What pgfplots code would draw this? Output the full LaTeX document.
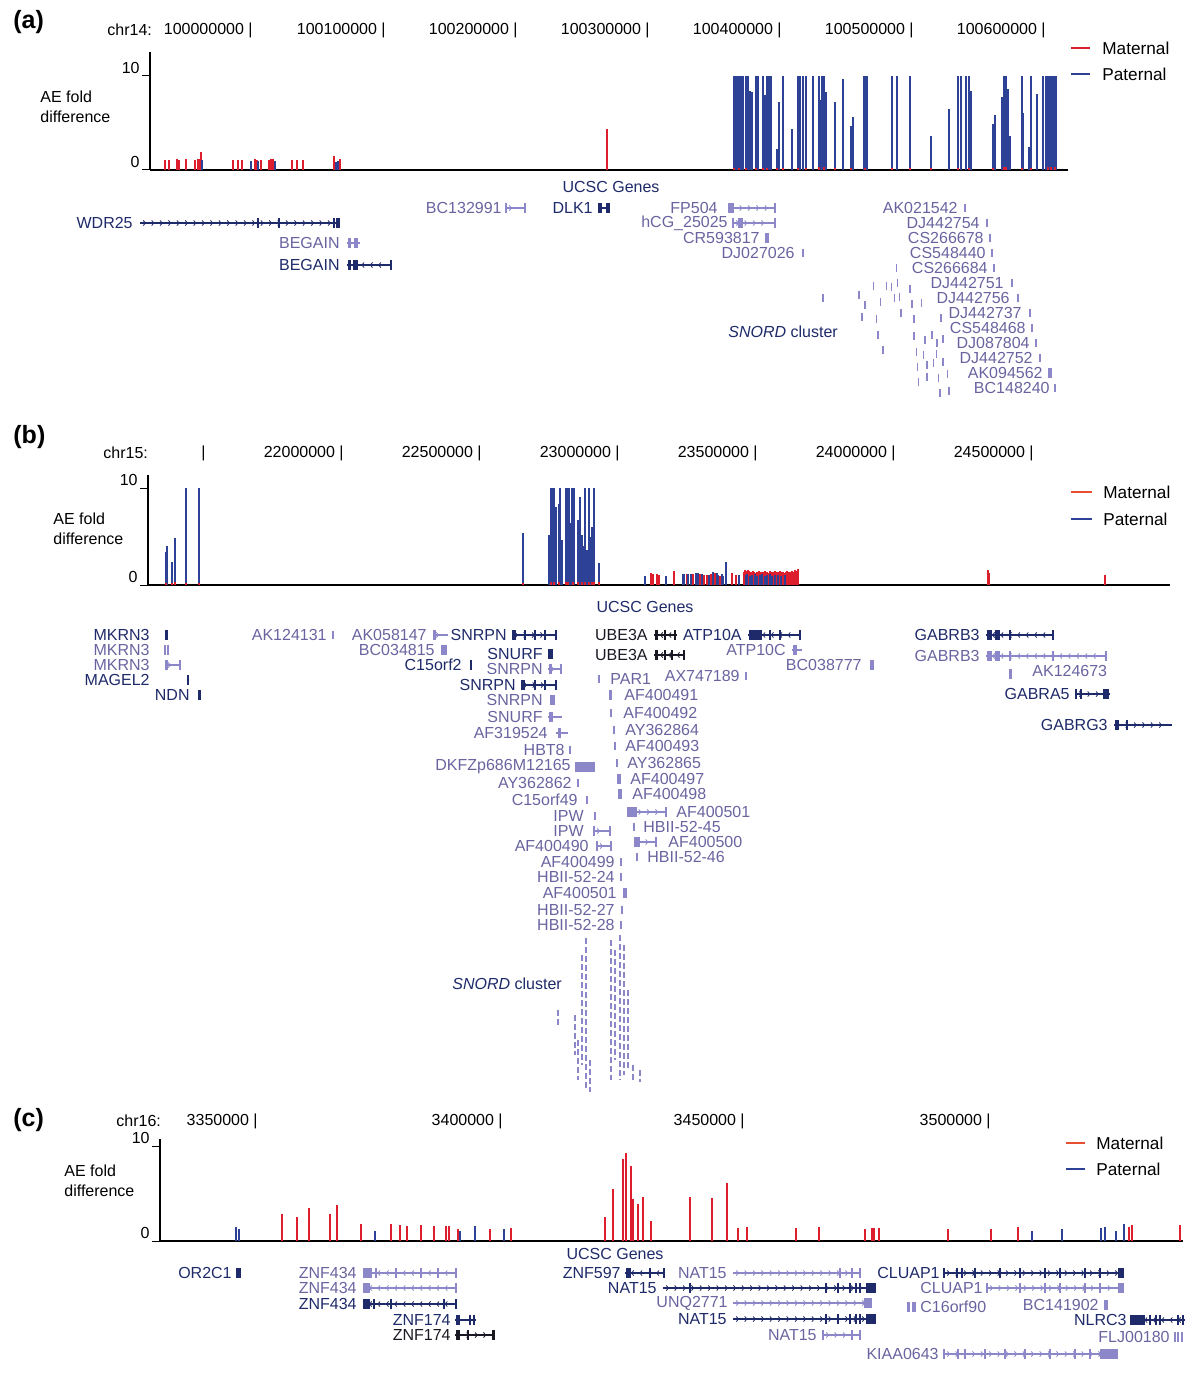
\documentclass[border=0pt]{standalone}
\usepackage{fontspec}
\setmainfont{Liberation Sans}
\usepackage{pgfplots}
\pgfplotsset{compat=1.18}
\usetikzlibrary{decorations.markings,arrows.meta}
\definecolor{matred}{RGB}{220,30,45}
\definecolor{matred2}{RGB}{232,78,48}
\definecolor{patblue}{RGB}{45,65,150}
\definecolor{gdark}{RGB}{30,42,105}
\definecolor{glab}{RGB}{105,100,160}
\definecolor{glt}{RGB}{140,135,200}
\definecolor{gblk}{RGB}{25,25,35}
\newcommand\gf{\fontsize{8}{9.6}\selectfont}
\newcommand\lf{\fontsize{8.6}{10}\selectfont}
\tikzset{
 fwd/.style={postaction={decorate,decoration={markings,mark=between positions 3pt and -3pt step 4.2pt with {\arrow[line width=0.4pt]{Straight Barb[length=1.1pt,width=2.6pt]}}}}},
 rev/.style={postaction={decorate,decoration={markings,mark=between positions 3pt and -3pt step 4.2pt with {\arrowreversed[line width=0.4pt]{Straight Barb[length=1.1pt,width=2.6pt]}}}}},
}
% gene helpers (overlay axis, pixel coordinates)
\newcommand\G[5]{\addplot[#1,line width=0.55pt,#2] coordinates {(#3,#5) (#4,#5)};}
\newcommand\E[4]{\addplot[#1,line width=4.6pt] coordinates {(#2,#4) (#3,#4)};}
\newcommand\K[2]{\addplot[#1,only marks,mark=|,mark size=2.4pt,mark options={line width=0.8pt}] coordinates {#2};}
\newcommand\Ks[2]{\addplot[#1,only marks,mark=|,mark size=2pt,mark options={line width=0.6pt}] coordinates {#2};}
\newcommand\LE[4]{\node[anchor=east,inner sep=0,text=#1,font=\gf] at (axis cs:#2,#3) {#4};}
\newcommand\LW[4]{\node[anchor=west,inner sep=0,text=#1,font=\gf] at (axis cs:#2,#3) {#4};}
\pgfplotsset{
 track/.style={scale only axis, anchor=south west, axis lines=left, axis line style={-,line width=0.7pt},
   xtick=\empty, ytick={0,10}, tick align=outside, major tick length=4pt,
   ytick style={line width=0.5pt,black},
   /pgf/number format/assume math mode=true,
   yticklabel style={font=\gf,anchor=south east,inner sep=1pt},
   ymin=0, clip=false},
 bar/.style={ycomb, no markers, line width=1pt},
}
\begin{document}
\begin{tikzpicture}[x=0.5pt,y=-0.5pt]
\path[use as bounding box] (0,0) rectangle (1200,1375);
% ---------------- overlay: labels and gene tracks ----------------
\begin{axis}[at={(0pt,0pt)}, anchor=north west, scale only axis, width=600pt, height=687.5pt,
  xmin=0, xmax=1200, ymin=0, ymax=1375, y dir=reverse, hide axis, clip=false]
% panel labels
\node[anchor=west,inner sep=0,font=\fontsize{12.5}{14}\bfseries] at (axis cs:13,22) {(a)};
\node[anchor=west,inner sep=0,font=\fontsize{12.5}{14}\bfseries] at (axis cs:13,437) {(b)};
\node[anchor=west,inner sep=0,font=\fontsize{12.5}{14}\bfseries] at (axis cs:13,1120) {(c)};
% y labels
\node[anchor=west,align=left,inner sep=0,font=\fontsize{8}{10}\selectfont] at (axis cs:40,107) {AE fold\\difference};
\node[anchor=west,align=left,inner sep=0,font=\fontsize{8}{10}\selectfont] at (axis cs:53,529) {AE fold\\difference};
\node[anchor=west,align=left,inner sep=0,font=\fontsize{8}{10}\selectfont] at (axis cs:64,1181) {AE fold\\difference};
% chromosome coordinates
\LW{black}{107}{30}{chr14:}
\LE{black}{253}{30}{100000000 |}
\LE{black}{386}{30}{100100000 |}
\LE{black}{518}{30}{100200000 |}
\LE{black}{650}{30}{100300000 |}
\LE{black}{782}{30}{100400000 |}
\LE{black}{914}{30}{100500000 |}
\LE{black}{1046}{30}{100600000 |}
\LW{black}{103}{453}{chr15:}
\LE{black}{206}{453}{|}
\LE{black}{344}{453}{22000000 |}
\LE{black}{482}{453}{22500000 |}
\LE{black}{620}{453}{23000000 |}
\LE{black}{758}{453}{23500000 |}
\LE{black}{896}{453}{24000000 |}
\LE{black}{1034}{453}{24500000 |}
\LW{black}{116}{1121}{chr16:}
\LE{black}{258}{1121}{3350000 |}
\LE{black}{503}{1121}{3400000 |}
\LE{black}{745}{1121}{3450000 |}
\LE{black}{991}{1121}{3500000 |}
% legends
\addplot[matred,line width=0.8pt] coordinates {(1071,48) (1090,48)};
\addplot[patblue,line width=0.8pt] coordinates {(1071,74) (1090,74)};
\node[anchor=west,inner sep=0,font=\lf] at (axis cs:1102,48) {Maternal};
\node[anchor=west,inner sep=0,font=\lf] at (axis cs:1102,74) {Paternal};
\addplot[matred2,line width=0.8pt] coordinates {(1071,492) (1092,492)};
\addplot[patblue,line width=0.8pt] coordinates {(1071,519) (1092,519)};
\node[anchor=west,inner sep=0,font=\lf] at (axis cs:1103,492) {Maternal};
\node[anchor=west,inner sep=0,font=\lf] at (axis cs:1103,519) {Paternal};
\addplot[matred2,line width=0.8pt] coordinates {(1066,1143) (1085,1143)};
\addplot[patblue,line width=0.8pt] coordinates {(1066,1169) (1085,1169)};
\node[anchor=west,inner sep=0,font=\lf] at (axis cs:1096,1143) {Maternal};
\node[anchor=west,inner sep=0,font=\lf] at (axis cs:1096,1169) {Paternal};
% ===== genes (a) =====
\node[inner sep=0,text=gdark,font=\gf] at (axis cs:611,187) {UCSC Genes};
\LE{glab}{502}{208}{BC132991} \G{glt}{fwd}{506}{525}{208} \K{glt}{(506,208)(525,208)}
\LE{gdark}{593}{208}{DLK1} \G{gdark}{}{598}{610}{208} \E{gdark}{598}{602}{208} \E{gdark}{606}{610}{208}
\LE{glab}{718}{208}{FP504} \G{glt}{fwd}{728}{775}{208} \E{glt}{728}{734}{208} \K{glt}{(775,208)}
\LE{glab}{728}{223}{hCG\_25025} \G{glt}{fwd}{733}{775}{223} \E{glt}{738}{743}{223} \K{glt}{(733,223)(775,223)}
\LE{glab}{760}{238}{CR593817} \E{glt}{765}{769}{238}
\LE{glab}{795}{253}{DJ027026} \Ks{glt}{(803,253)}
\LE{gdark}{133}{223}{WDR25} \G{gdark}{fwd}{140}{340}{223} \K{gdark}{(258,223)(279,223)(334,223)} \E{gdark}{336}{340}{223}
\LE{glab}{340}{243}{BEGAIN} \G{glt}{}{347}{360}{243} \E{glt}{348}{351}{243} \E{glt}{354}{358}{243}
\LE{gdark}{340}{265}{BEGAIN} \G{gdark}{rev}{347}{392}{265} \E{gdark}{348}{351}{265} \E{gdark}{353}{358}{265} \K{gdark}{(391,265)}
\LE{glab}{958}{208}{AK021542} \Ks{glt}{(965,208)}
\LE{glab}{980}{223}{DJ442754} \Ks{glt}{(987,223)}
\LE{glab}{984}{238}{CS266678} \Ks{glt}{(990,238)}
\LE{glab}{986}{253}{CS548440} \Ks{glt}{(992,253)}
\LE{glab}{988}{268}{CS266684} \Ks{glt}{(994,268)}
\LE{glab}{1004}{283}{DJ442751} \Ks{glt}{(1012,283)}
\LE{glab}{1010}{298}{DJ442756} \Ks{glt}{(1018,298)}
\LE{glab}{1022}{313}{DJ442737} \Ks{glt}{(1030,313)}
\LE{glab}{1026}{328}{CS548468} \Ks{glt}{(1032,328)}
\LE{glab}{1030}{343}{DJ087804} \Ks{glt}{(1036,343)}
\LE{glab}{1033}{358}{DJ442752} \Ks{glt}{(1040,358)}
\LE{glab}{1043}{373}{AK094562} \E{glt}{1048}{1052}{373}
\LE{glab}{1050}{388}{BC148240} \Ks{glt}{(1055,388)}
\node[anchor=west,inner sep=0,text=gdark,font=\gf] at (axis cs:728,332) {\textit{SNORD} cluster};
\Ks{glt}{(896.6,268)(873.6,286)(886.3,286)(891.6,287)(897.7,283)(910,289)(823,298)(859,295)(865,305)(880.5,302)(894.7,298)(899.7,297)(912,304)(921.5,303)(862,317)(876.7,319)(901,313)(914,319)(941,318)(878,335)(914,336)(925,340)(932,335)(937,343)(943,339)(883,350)(916.5,352)(923.4,355)(936.8,354)(943,362)(917.6,367)(927,365)(933.7,363)(918.4,382)(927,377)(938.7,378)(947.5,374)(940,393)(949,391)}
% ===== genes (b) =====
\node[inner sep=0,text=gdark,font=\gf] at (axis cs:645,607) {UCSC Genes};
\LE{gdark}{150}{635}{MKRN3} \E{gdark}{165}{168}{635}
\LE{glab}{150}{650}{MKRN3} \K{glt}{(165,650)(168,650)}
\LE{glab}{150}{665}{MKRN3} \G{glt}{fwd}{165}{180}{665} \E{glt}{165}{168}{665} \K{glt}{(180,665)}
\LE{gdark}{150}{680}{MAGEL2} \K{gdark}{(188,680)}
\LE{gdark}{190}{695}{NDN} \E{gdark}{198}{201}{695}
\LE{glab}{327}{635}{AK124131} \Ks{glt}{(333,635)}
\LE{glab}{427}{635}{AK058147} \G{glt}{fwd}{433}{448}{635} \E{glt}{433}{436}{635}
\LE{gdark}{507}{635}{SNRPN} \G{gdark}{fwd}{512}{556}{635} \E{gdark}{512}{516}{635} \K{gdark}{(525,635)(535,635)(545,635)(556,635)}
\LE{glab}{435}{650}{BC034815} \E{glt}{441}{447}{650}
\LE{gdark}{543}{654}{SNURF} \E{gdark}{548}{553}{654}
\LE{gdark}{462}{665}{C15orf2} \K{gdark}{(471,665)}
\LE{glab}{543}{669}{SNRPN} \G{glt}{fwd}{548}{562}{669} \E{glt}{549}{552}{669} \K{glt}{(561,669)}
\LE{gdark}{516}{685}{SNRPN} \G{gdark}{fwd}{521}{556}{685} \E{gdark}{521}{525}{685} \K{gdark}{(535,685)(545,685)(556,685)}
\LE{glab}{543}{700}{SNRPN} \E{glt}{550}{555}{700}
\LE{glab}{543}{717}{SNURF} \G{glt}{fwd}{548}{562}{717} \E{glt}{549}{553}{717}
\LE{glab}{548}{733}{AF319524} \G{glt}{fwd}{556}{568}{733} \E{glt}{558}{561}{733}
\LE{glab}{565}{750}{HBT8} \Ks{glt}{(570,750)}
\LE{glab}{571}{767}{DKFZp686M12165} \E{glt}{575}{595}{767}
\LE{glab}{572}{783}{AY362862} \Ks{glt}{(578,783)}
\LE{glab}{578}{800}{C15orf49} \Ks{glt}{(587,800)}
\LE{glab}{584}{816}{IPW} \Ks{glt}{(595,816)}
\LE{glab}{584}{831}{IPW} \G{glt}{fwd}{594}{610}{831} \K{glt}{(594,831)(610,831)}
\LE{glab}{589}{846}{AF400490} \G{glt}{fwd}{597}{611}{846} \K{glt}{(597,846)(611,846)}
\LE{glab}{615}{862}{AF400499} \Ks{glt}{(621,862)}
\LE{glab}{615}{877}{HBII-52-24} \Ks{glt}{(621,877)}
\LE{glab}{617}{893}{AF400501} \E{glt}{623}{627}{893}
\LE{glab}{615}{910}{HBII-52-27} \Ks{glt}{(622,910)}
\LE{glab}{615}{925}{HBII-52-28} \Ks{glt}{(621,925)}
\LE{gblk}{648}{635}{UBE3A} \G{gblk}{rev}{654}{677}{635} \E{gblk}{655}{658}{635} \K{gblk}{(665,635)(675,635)}
\LE{gdark}{742}{635}{ATP10A} \G{gdark}{rev}{748}{800}{635} \E{gdark}{749}{762}{635} \K{gdark}{(770,635)(780,635)(800,635)}
\LE{gblk}{648}{655}{UBE3A} \G{gblk}{rev}{654}{684}{655} \E{gblk}{655}{658}{655} \K{gblk}{(665,655)(672,655)(684,655)}
\LE{glab}{786}{650}{ATP10C} \G{glt}{rev}{792}{802}{650} \E{glt}{793}{797}{650}
\LE{glab}{862}{665}{BC038777} \E{glt}{870}{874}{665}
\Ks{glt}{(599,679)} \LW{glab}{610}{679}{PAR1}
\LE{glab}{740}{676}{AX747189} \Ks{glt}{(746,676)}
\LW{glab}{624}{695}{AF400491} \E{glt}{609}{612}{695}
\LW{glab}{623}{713}{AF400492} \Ks{glt}{(611,713)}
\LW{glab}{625}{730}{AY362864} \Ks{glt}{(614,730)}
\LW{glab}{625}{746}{AF400493} \Ks{glt}{(615,746)}
\LW{glab}{627}{763}{AY362865} \Ks{glt}{(617,763)}
\LW{glab}{630}{779}{AF400497} \E{glt}{617}{621}{779}
\LW{glab}{632}{794}{AF400498} \E{glt}{618}{622}{794}
\LW{glab}{676}{812}{AF400501} \G{glt}{fwd}{627}{666}{812} \E{glt}{627}{637}{812} \K{glt}{(666,812)}
\LW{glab}{643}{827}{HBII-52-45} \Ks{glt}{(634,827)}
\LW{glab}{668}{842}{AF400500} \G{glt}{fwd}{634}{656}{842} \E{glt}{634}{640}{842} \K{glt}{(656,842)}
\LW{glab}{647}{857}{HBII-52-46} \Ks{glt}{(637,857)}
\LE{gdark}{980}{635}{GABRB3} \G{gdark}{rev}{986}{1053}{635} \E{gdark}{987}{992}{635} \E{gdark}{995}{1000}{635} \K{gdark}{(1010,635)(1053,635)}
\LE{glab}{980}{656}{GABRB3} \G{glt}{rev}{986}{1106}{656} \E{glt}{987}{992}{656} \E{glt}{995}{1000}{656} \K{glt}{(1010,656)(1053,656)(1106,656)}
\LW{glab}{1032}{671}{AK124673} \E{glt}{1009}{1012}{674}
\LE{gdark}{1070}{694}{GABRA5} \G{gdark}{fwd}{1076}{1110}{694} \K{gdark}{(1076,694)(1081,694)} \E{gdark}{1103}{1109}{694}
\LE{gdark}{1108}{725}{GABRG3} \G{gdark}{fwd}{1114}{1172}{725} \E{gdark}{1115}{1119}{725} \K{gdark}{(1127,725)}
\node[anchor=west,inner sep=0,text=gdark,font=\gf] at (axis cs:452,984) {\textit{SNORD} cluster};
\addplot[glt,line width=0.8pt,dash pattern=on 3pt off 1.5pt] coordinates {(558,1010) (558,1026)};
\addplot[glt,line width=0.8pt,dash pattern=on 3pt off 1.5pt] coordinates {(575,1015) (575,1055)};
\addplot[glt,line width=0.8pt,dash pattern=on 3pt off 1.5pt] coordinates {(578,1040) (578,1080)};
\addplot[glt,line width=0.8pt,dash pattern=on 3pt off 1.5pt] coordinates {(582,955) (582,1065)};
\addplot[glt,line width=0.8pt,dash pattern=on 3pt off 1.5pt] coordinates {(586,938) (586,1090)};
\addplot[glt,line width=0.8pt,dash pattern=on 3pt off 1.5pt] coordinates {(590,1060) (590,1092)};
\addplot[glt,line width=0.8pt,dash pattern=on 3pt off 1.5pt] coordinates {(611,940) (611,1080)};
\addplot[glt,line width=0.8pt,dash pattern=on 3pt off 1.5pt] coordinates {(615,950) (615,1060)};
\addplot[glt,line width=0.8pt,dash pattern=on 3pt off 1.5pt] coordinates {(620,935) (620,1080)};
\addplot[glt,line width=0.8pt,dash pattern=on 3pt off 1.5pt] coordinates {(624,945) (624,1075)};
\addplot[glt,line width=0.8pt,dash pattern=on 3pt off 1.5pt] coordinates {(628,990) (628,1070)};
\addplot[glt,line width=0.8pt,dash pattern=on 3pt off 1.5pt] coordinates {(633,1065) (633,1082)};
\addplot[glt,line width=0.8pt,dash pattern=on 3pt off 1.5pt] coordinates {(640,1070) (640,1082)};
% ===== genes (c) =====
\node[inner sep=0,text=gdark,font=\gf] at (axis cs:615,1254) {UCSC Genes};
\LE{gdark}{232}{1273}{OR2C1} \E{gdark}{236}{241}{1273}
\LE{glab}{357}{1273}{ZNF434} \G{glt}{rev}{363}{456}{1273} \E{glt}{363}{372}{1273} \K{glt}{(376,1273)(396,1273)(421,1273)(438,1273)(456,1273)}
\LE{glab}{357}{1288}{ZNF434} \G{glt}{rev}{363}{456}{1288} \E{glt}{363}{370}{1288} \K{glt}{(456,1288)}
\LE{gdark}{357}{1304}{ZNF434} \G{gdark}{rev}{363}{456}{1304} \E{gdark}{363}{370}{1304} \K{gdark}{(374,1304)(391,1304)(444,1304)(456,1304)}
\LE{gdark}{451}{1320}{ZNF174} \G{gdark}{}{455}{476}{1320} \E{gdark}{456}{460}{1320} \K{gdark}{(470,1320)(474,1320)}
\LE{gblk}{451}{1335}{ZNF174} \G{gblk}{fwd}{455}{495}{1335} \E{gblk}{456}{460}{1335} \K{gblk}{(468,1335)} \E{gblk}{492}{495}{1335}
\LE{gdark}{621}{1273}{ZNF597} \G{gdark}{rev}{625}{664}{1273} \E{gdark}{626}{631}{1273} \K{gdark}{(650,1273)(664,1273)}
\LE{glab}{727}{1273}{NAT15} \G{glt}{fwd}{733}{860}{1273} \K{glt}{(840,1273)(852,1273)(860,1273)}
\LE{gdark}{657}{1288}{NAT15} \G{gdark}{fwd}{663}{876}{1288} \K{gdark}{(690,1288)(826,1288)(838,1288)(850,1288)(856,1288)(860,1288)} \E{gdark}{866}{876}{1288}
\LE{glab}{728}{1303}{UNQ2771} \G{glt}{fwd}{733}{872}{1303} \E{glt}{864}{872}{1303}
\LE{gdark}{727}{1319}{NAT15} \G{gdark}{fwd}{733}{876}{1319} \K{gdark}{(826,1319)(838,1319)(850,1319)(856,1319)(860,1319)} \E{gdark}{866}{876}{1319}
\LE{glab}{817}{1335}{NAT15} \G{glt}{fwd}{823}{860}{1335} \K{glt}{(823,1335)(852,1335)(860,1335)}
\LE{glab}{939}{1354}{KIAA0643} \G{glt}{fwd}{944}{1118}{1354} \K{glt}{(944,1354)(958,1354)(965,1354)(985,1354)(1005,1354)(1025,1354)(1050,1354)(1075,1354)(1090,1354)} \E{glt}{1100}{1118}{1354}
\LE{gdark}{940}{1273}{CLUAP1} \G{gdark}{fwd}{944}{1124}{1273} \K{gdark}{(944,1273)(957,1273)(962,1273)(975,1273)(1000,1273)(1020,1273)(1045,1273)(1060,1273)(1085,1273)(1100,1273)} \E{gdark}{1118}{1124}{1273}
\LE{glab}{983}{1288}{CLUAP1} \G{glt}{fwd}{987}{1124}{1288} \K{glt}{(987,1288)(1020,1288)(1045,1288)(1060,1288)(1085,1288)(1100,1288)} \E{glt}{1118}{1124}{1288}
\E{glt}{907}{910}{1307} \E{glt}{912}{916}{1307} \LW{glab}{920}{1307}{C16orf90}
\LE{glab}{1099}{1305}{BC141902} \E{glt}{1104}{1108}{1305}
\LE{gdark}{1127}{1320}{NLRC3} \G{gdark}{rev}{1130}{1185}{1320} \E{gdark}{1130}{1145}{1320} \K{gdark}{(1150,1320)(1156,1320)(1160,1320)(1178,1320)(1183,1320)}
\LE{glab}{1170}{1337}{FLJ00180} \K{glt}{(1175,1337)(1178,1337)(1182,1337)}
\end{axis}
% ---------------- (a) chr14, x = kb from 100,000,000 ----------------
\begin{axis}[track, at={(75pt,-85pt)}, width=459pt, height=59pt, xmin=-75.8, xmax=618.9, ymax=12.5,
  x axis line style={line width=1pt}]
\addplot[bar, matred] coordinates {(-64.8,1.1) (-61.3,1.1) (-55.2,1.15) (-54.0,1.1) (-48.5,1.15) (-41.5,1.1) (-39.7,1.15) (-38.5,1.2) (-37.1,1.9) (-12.8,1.1) (-9.3,1.1) (-6.1,1.1) (3.8,1.2) (5.0,1.1) (8.5,1.1) (14.0,1.05) (15.8,1.15) (16.9,1.2) (31.5,1.1) (35.6,1.1) (39.7,1.1) (63.4,1.45) (67.7,1.15) (269.7,4.3)};
\addplot[bar, patblue] coordinates {(-36.8,1.1) (0.6,1.0) (6.1,1.0) (19.0,0.95) (65.1,0.9) (66.6,1.0)
 (366.5,10) (367.3,10) (368.5,10) (370,10) (371.4,10) (373.2,10) (375.2,10) (376.7,10) (378.1,8.4) (379.6,8.3) (382.5,10) (384,10) (388.3,10) (389.8,7.9) (391.3,10) (392.7,10) (394.2,10) (398.5,2.2) (400,7.2) (403.5,10) (410.2,4.3) (414.6,10) (416,10) (418.1,10) (420.4,10) (425.7,10) (430.6,10) (431.5,7.4) (432.9,10) (434.4,10) (435.9,8.3) (442.3,7.2) (448.7,9.6) (454.5,4.7) (456,5.6) (464.7,10) (465.6,10) (466.5,10) (486,10) (489.8,10) (499.1,10) (515.2,3.6) (528.9,6.5) (535.6,10) (537.6,10) (541.4,10) (544.3,10) (545.8,8.4) (561.8,4.9) (563.3,5.8) (569.1,7.7) (570.6,10) (572,10) (573.5,8.6) (574.9,3.6) (583.7,10) (585.1,6.0) (589.5,2.4) (591,10) (595.3,8.0) (599.7,10) (602.6,10) (603.5,10) (604.4,10) (605.3,10) (606.2,10) (607.1,10) (608,10) (609,10) (609.9,10)};
\addplot[bar, matred] coordinates {(366.5,0.25) (370,0.25) (375.2,0.25) (382.5,0.25) (388.3,0.25) (391.3,0.25) (398.5,0.25) (403.5,0.2) (414.6,0.2) (420.4,0.25) (430.6,0.3) (434.4,0.3) (442.3,0.2) (454.5,0.2) (465.6,0.25) (486,0.2) (499.1,0.2) (515.2,0.2) (535.6,0.25) (544.3,0.25) (561.8,0.25) (570.6,0.3) (572,0.3) (583.7,0.25) (591,0.2) (603.5,0.3) (606.2,0.3) (609,0.3)};
\end{axis}
% ---------------- (b) chr15, x = kb from 21,500,000 ----------------
\begin{axis}[track, at={(74pt,-292.5pt)}, width=511pt, height=55pt, xmin=-199.6, xmax=3508.7, ymax=11.34,
  x axis line style={line width=1pt}]
\addplot[bar, patblue] coordinates {(-136,3.2) (-133,3.4) (-131,4.0) (-112.5,2.4) (-103,4.8) (-102,3.2) (-60,10) (-15,10) (1160,5.4)
 (1256.5,5.2) (1262.7,10) (1267.4,10) (1272.5,10) (1280.8,8.0) (1290.6,8.4) (1295.4,10) (1301.5,4.6) (1316.1,10) (1318.5,10) (1320.8,10) (1323.5,10) (1326.2,10) (1331.6,6.4) (1337.1,10) (1342.5,10) (1346.2,10) (1359.6,6.7) (1369,9.1) (1375.2,5.2) (1380.6,4.0) (1387.2,10) (1394.4,3.6) (1399.5,10) (1406,5.0) (1412.6,6.0) (1418.7,10) (1435.8,2.3)};
\addplot[bar, matred] coordinates {(-136,0.25) (-113,0.25) (-103,0.3) (-60,0.25) (-15,0.25) (1160,0.2) (1262.7,0.3) (1272.5,0.3) (1290.6,0.3) (1316,0.35) (1320,0.35) (1326,0.35) (1342,0.3) (1360,0.3) (1375,0.3) (1387,0.3) (1399,0.3) (1412,0.3) (1418,0.3) (1436,0.3)};
\addplot[bar, matred] coordinates {(1624.5,1.2) (1631.7,1.1) (1646.2,1.1) (1653.4,1.0) (1709,1.4) (1755,1.1) (1779,1.1) (1803.3,1.1) (1817.8,1.0) (1827.6,1.0) (1843.3,1.1) (1857.8,1.2) (1875.9,0.9) (1920.5,1.2) (1934,1.0)
 (1964,1.3) (1967,1.5) (1970,1.4) (1973,1.2) (1976,1.5) (1979,1.3) (1982,1.4) (1985,1.1) (1988,1.3) (1991,1.2) (1994,1.4) (1997,1.0) (2000,1.3) (2003,1.2) (2006,1.1) (2009,1.3) (2012,1.0) (2015,1.2) (2018,1.4) (2021,1.1) (2024,1.3) (2027,1.0) (2030,1.2) (2033,1.3) (2036,1.1) (2039,1.4) (2042,1.2) (2045,1.0) (2048,1.3) (2051,1.2) (2054,1.1) (2057,1.4) (2060,1.2) (2063,1.3) (2066,1.1) (2069,1.3) (2072,1.2) (2075,1.4) (2078,1.1) (2081,1.3) (2084,1.2) (2087,1.3) (2090,1.1) (2093,1.4) (2096,1.2) (2099,1.3) (2102,1.2) (2105,1.3) (2108,1.1) (2111,1.2) (2114,1.3) (2117,1.2) (2120,1.4) (2123,1.2) (2126,1.3) (2129,1.1) (2132,1.3) (2135,1.2) (2138,1.4) (2141,1.3) (2144,1.2) (2147,1.5) (2150,1.3) (2153,1.4) (2156,1.2) (2159,1.6)
 (2847,1.5) (2852.8,1.2) (3273.6,1.05)};
\addplot[bar, patblue] coordinates {(1603.8,0.9) (1680,0.9) (1740.5,1.1) (1746.4,1.1) (1761,1.1) (1769.6,1.1) (1787.7,1.2) (1797.3,1.2) (1809.4,1.1) (1836,1.0) (1849.4,1.3) (1863.9,1.2) (1869.8,1.0) (1882,1.1) (1888,0.9) (1898.8,2.4) (1943.8,1.0)
 (1968.5,1.0) (1975.5,1.1) (1984,0.9) (1993,1.0) (2002,1.1) (2010,0.9) (2020,1.0) (2029,1.1) (2038,0.9) (2047,1.0) (2056,1.1) (2065,0.9) (2074,1.0) (2086,1.0) (2098,0.9) (2110,1.0)};
\end{axis}
% ---------------- (c) chr16, x = kb ----------------
\begin{axis}[track, at={(80pt,-620.5pt)}, width=511.5pt, height=51pt, xmin=3330.6, xmax=3540.3, ymax=10.75,
  x axis line style={line width=1pt}]
\addplot[bar, matred] coordinates {(3355.6,2.8) (3358.7,2.53) (3361.1,3.45) (3365.4,2.8) (3366.9,3.77) (3371.8,1.83) (3377.9,1.83) (3379.8,1.68) (3381.3,1.58) (3384.1,1.68) (3386.8,1.58) (3389.2,1.58) (3389.8,1.58) (3391.7,1.23) (3398.2,1.23) (3402.5,1.4) (3421.8,2.53) (3423.5,5.5) (3425.6,8.6) (3426.1,9.3) (3427.1,7.86) (3427.5,4.4) (3428.6,3.9) (3429.6,4.63) (3431.2,2.15) (3439.2,4.63) (3443.7,4.52) (3446.9,6.14) (3449.0,1.34) (3450.9,1.51) (3461.0,1.34) (3465.6,1.51) (3475.1,1.23) (3476.6,1.34) (3477.0,1.34) (3477.9,1.34) (3492.1,1.23) (3500.9,1.23) (3506.5,1.51) (3529.2,1.51) (3529.8,1.68) (3539.7,1.68)};
\addplot[bar, patblue] coordinates {(3346.1,1.51) (3346.7,1.23) (3374.6,1.08) (3392,1.08) (3395.2,1.58) (3401.2,1.23) (3509.3,1.08) (3515.4,1.23) (3523.4,1.34) (3524.3,1.51) (3526.5,1.08) (3528.3,1.83)};
\end{axis}
\end{tikzpicture}
\end{document}
